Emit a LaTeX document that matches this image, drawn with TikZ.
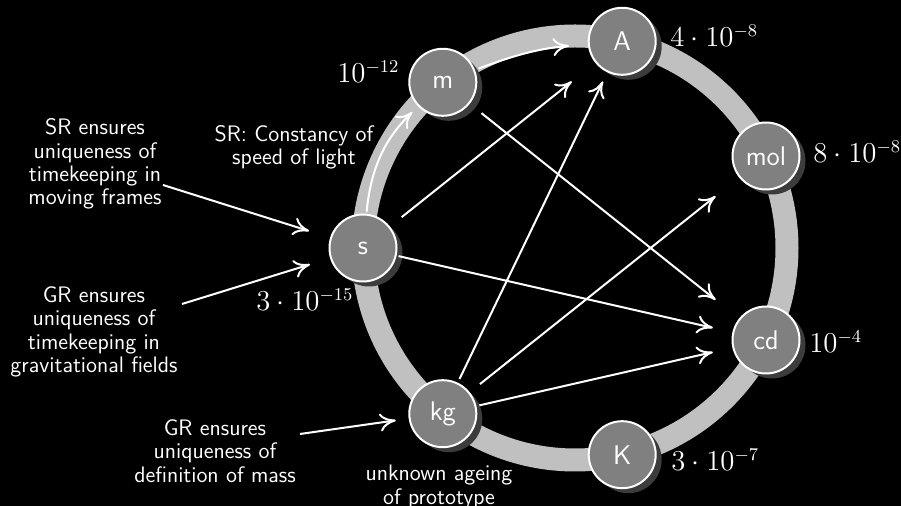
\documentclass[tikz,border=0pt]{standalone}
\usetikzlibrary{arrows.meta,shadows}
\definecolor{ringgray}{HTML}{C0C0C0}
\definecolor{nodegray}{HTML}{808080}
\definecolor{shadowgray}{HTML}{3C3C3C}
\begin{document}
\begin{tikzpicture}[x=0.5pt,y=-0.5pt,
  unit/.style={circle, draw=white, line width=1pt, fill=nodegray,
    minimum size=33.5pt, inner sep=0pt, text=white,
    font=\sffamily\fontsize{13.5}{15}\selectfont,
    drop shadow={shadow xshift=3pt, shadow yshift=-2.5pt,
      fill=shadowgray, opacity=1}},
  note/.style={align=center, text=white, inner sep=0pt,
    font=\sffamily\fontsize{11.2}{11.65}\selectfont},
  val/.style={text=white, inner sep=0pt, anchor=base west,
    font=\fontsize{13.5}{15}\selectfont},
  link/.style={draw=white, line width=1pt,
    -{To[length=8pt,width=9pt]}}
]
% canvas
\fill[black] (0,0) rectangle (901,506);
\useasboundingbox (0,0) rectangle (901,506);

% the ring through the seven base units
\draw[ringgray, line width=11.5pt] (575,248) circle[radius=212];

% base units (regular heptagon on the ring)
\node[unit] (s)   at (363,248)     {s};
\node[unit] (m)   at (442.8,82.3)  {m};
\node[unit] (A)   at (622.2,41.3)  {A};
\node[unit] (mol) at (766,156)     {mol};
\node[unit] (cd)  at (766,340)     {cd};
\node[unit] (K)   at (622.2,454.7) {K};
\node[unit] (kg)  at (442.8,413.7) {kg};

% relative uncertainties
\node[val] (vm)   at (337,83)  {$10^{-12}$};
\node[val] (vA)   at (670,47)  {$4\cdot 10^{-8}$};
\node[val] (vmol) at (813,163) {$8\cdot 10^{-8}$};
\node[val] (vcd)  at (809,353) {$10^{-4}$};
\node[val] (vK)   at (671,471) {$3\cdot 10^{-7}$};
\node[val] (vs)   at (256,311) {$3\cdot 10^{-15}$};

% explanatory notes
\node[note] (srmove) at (95,164)  {SR ensures\\uniqueness of\\timekeeping in\\moving frames};
\node[note] (srlight) at (294,147) {SR: Constancy of\\speed of light};
\node[note] (grtime) at (94,332)  {GR ensures\\uniqueness of\\timekeeping in\\gravitational fields};
\node[note] (grmass) at (215,451) {GR ensures\\uniqueness of\\definition of mass};
\node[note] (ageing) at (439,487) {unknown ageing\\of prototype};

% free ends of the note arrows
\coordinate (srtail)   at (163,185);
\coordinate (grtail)   at (182,304);
\coordinate (masstail) at (300,434);

% dependencies between units
\draw[link, shorten <=1pt, shorten >=4pt] (s) to[bend left=20] (m);
\draw[link, shorten <=2pt, shorten >=9.5pt] (m) to[bend left=8] (A);
\draw[link, shorten <=7.5pt, shorten >=15pt] (s) -- (A);
\draw[link, shorten <=2pt, shorten >=5pt] (kg) -- (A);
\draw[link, shorten <=7.5pt, shorten >=15pt] (m) -- (cd);
\draw[link, shorten <=1pt, shorten >=10pt] (s) -- (cd);
\draw[link, shorten <=1.5pt, shorten >=10pt] (kg) -- (cd);
\draw[link, shorten <=6.5pt, shorten >=15pt] (kg) -- (mol);

% notes pointing at units
\draw[link, shorten >=11pt] (srtail) -- (s);
\draw[link, shorten >=10.5pt] (grtail) -- (s);
\draw[link, shorten >=6.5pt] (masstail) -- (kg);
\end{tikzpicture}
\end{document}
